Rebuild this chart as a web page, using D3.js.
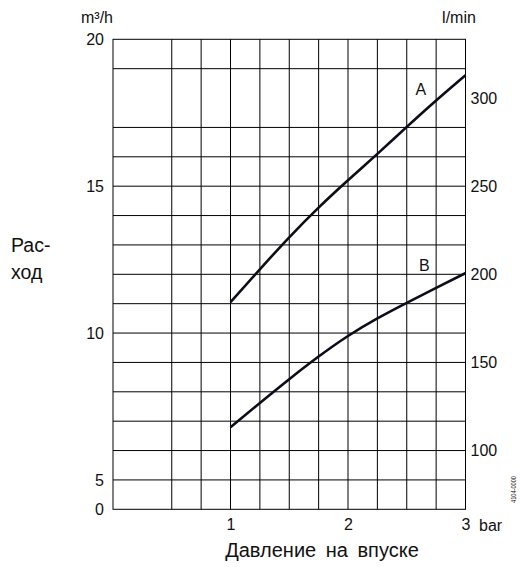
<!DOCTYPE html>
<html><head><meta charset="utf-8">
<script src="https://cdn.jsdelivr.net/npm/d3@7"></script>
<style>
html,body{margin:0;padding:0;background:#fff;}
svg{display:block;font-family:"Liberation Sans",Arial,sans-serif;}
</style></head>
<body><svg id="c" width="520" height="567"></svg>
<script>
// Data (pressure in bar, flow in m³/h)
const pressureA = [1, 1.25, 1.5, 1.75, 2, 2.25, 2.5, 2.75, 3];
const flowA     = [11.05, 12.17, 13.26, 14.27, 15.2, 16.1, 17.02, 17.92, 18.78];
const pressureB = [1, 1.25, 1.5, 1.75, 2, 2.25, 2.5, 2.75, 3];
const flowB     = [6.79, 7.62, 8.43, 9.2, 9.9, 10.5, 11.03, 11.54, 12.04];
const seriesNames = ["A", "B"];
const leftTickValues = [4, 5, 10, 15, 20];
const leftTickLabels = ["0", "5", "10", "15", "20"];
const rightTickValues = [100, 150, 200, 250, 300];
const xTickValues = [1, 2, 3];
const xTickLabels = ["1", "2", "3"];
const hGridValues = [5,6,7,8,9,10,11,12,13,14,15,16,17,19];
const vGridValues = [0.5,0.75,1,1.25,1.5,1.75,2,2.25,2.5,2.75];

const svg = d3.select("#c");
const L = 113, R = 465.5, T = 39.3, B = 509.3;
const x = d3.scaleLinear().domain([0, 3]).range([L, R]);
const y = d3.scaleLinear().domain([4, 20]).range([B, T]);
const yR = d3.scaleLinear().domain([4*1000/60, 20*1000/60]).range([B, T]);
const txt = "#111";
const fs = 16;

// grid
const g = svg.append("g").attr("stroke", "#000").attr("stroke-width", 1);
g.selectAll(".h").data(hGridValues).join("line")
  .attr("x1", L).attr("x2", R).attr("y1", d => y(d)).attr("y2", d => y(d));
g.selectAll(".v").data(vGridValues).join("line")
  .attr("y1", T).attr("y2", B).attr("x1", d => x(d)).attr("x2", d => x(d));
g.append("rect").attr("x", L).attr("y", T).attr("width", R - L).attr("height", B - T).attr("fill", "none");

// left axis
const la = svg.append("g").attr("transform", `translate(${L},0)`)
  .call(d3.axisLeft(y).tickValues(leftTickValues).tickSize(0).tickPadding(9)
    .tickFormat((d, i) => leftTickLabels[i]));
la.select(".domain").remove();
la.selectAll("text").attr("font-size", fs).attr("fill", txt).attr("font-family", "Liberation Sans, Arial, sans-serif");

// right axis
const ra = svg.append("g").attr("transform", `translate(${R},0)`)
  .call(d3.axisRight(yR).tickValues(rightTickValues).tickSize(0).tickPadding(5).tickFormat(d3.format("d")));
ra.select(".domain").remove();
ra.selectAll("text").attr("font-size", fs).attr("fill", txt).attr("font-family", "Liberation Sans, Arial, sans-serif");

// bottom axis
const ba = svg.append("g").attr("transform", `translate(0,${B})`)
  .call(d3.axisBottom(x).tickValues(xTickValues).tickSize(0).tickPadding(9)
    .tickFormat((d, i) => xTickLabels[i]));
ba.select(".domain").remove();
ba.selectAll("text").attr("font-size", fs).attr("fill", txt).attr("font-family", "Liberation Sans, Arial, sans-serif");

// units
svg.append("text").attr("x", 97).attr("y", 23).attr("text-anchor", "middle")
  .attr("font-size", fs).attr("fill", txt).text("m³/h");
svg.append("text").attr("x", 459).attr("y", 23).attr("text-anchor", "middle")
  .attr("font-size", fs).attr("fill", txt).text("l/min");
svg.append("text").attr("x", 479).attr("y", 531)
  .attr("font-size", fs).attr("fill", txt).text("bar");

// axis titles
svg.append("text").attr("x", 322).attr("y", 557).attr("text-anchor", "middle")
  .attr("font-size", 20).attr("word-spacing", 4).attr("fill", txt).text("Давление на впуске");
svg.append("text").attr("x", 11).attr("y", 252)
  .attr("font-size", 19.5).attr("fill", txt).text("Рас-");
svg.append("text").attr("x", 11).attr("y", 279)
  .attr("font-size", 19.5).attr("fill", txt).text("ход");

// code
svg.append("text").attr("transform", "translate(516,503) rotate(-90)")
  .attr("font-size", 7.5).attr("textLength", 27).attr("lengthAdjust", "spacingAndGlyphs")
  .attr("fill", txt).text("4104-0000");

// curves
const line = d3.line().x(d => x(d[0])).y(d => y(d[1])).curve(d3.curveNatural);
const dataA = pressureA.map((p, i) => [p, flowA[i]]);
const dataB = pressureB.map((p, i) => [p, flowB[i]]);
[dataA, dataB].forEach(dat => {
  svg.append("path").datum(dat).attr("d", line).attr("fill", "none")
    .attr("stroke", "#0d0d1a").attr("stroke-width", 2.6);
});

// series labels
svg.append("text").attr("x", x(2.62)).attr("y", y(18.1)).attr("text-anchor", "middle")
  .attr("font-size", fs).attr("fill", txt).text(seriesNames[0]);
svg.append("text").attr("x", x(2.65)).attr("y", y(12.12)).attr("text-anchor", "middle")
  .attr("font-size", fs).attr("fill", txt).text(seriesNames[1]);
</script></body></html>
